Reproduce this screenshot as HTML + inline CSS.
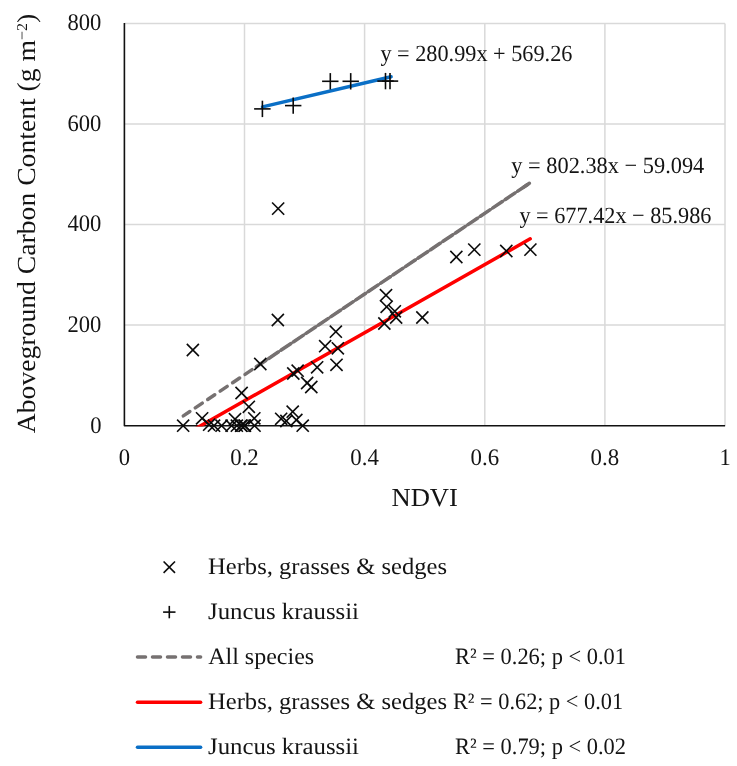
<!DOCTYPE html>
<html lang="en">
<head>
<meta charset="utf-8">
<title>Aboveground Carbon Content vs NDVI</title>
<style>
html,body{margin:0;padding:0;background:#fff;}
body{width:737px;height:766px;overflow:hidden;}
svg{display:block;}
svg text{font-family:"Liberation Serif", "DejaVu Serif", serif;font-size:22px;fill:#141414;text-rendering:geometricPrecision;}
.grid line{stroke:#d9d9d9;stroke-width:1.5;}
.axis{stroke:#111;stroke-width:1.6;fill:none;stroke-linejoin:round;}
.mk{stroke:#0a0a0a;stroke-width:1.6;fill:none;}
.tl{fill:none;stroke-width:3.5;stroke-linecap:round;}
.ttl{font-size:26px;}
.lg text{font-size:23.5px;}
.lg .r{font-size:23.5px;}
.tk text{font-size:23.8px;}
.eq{font-size:23.2px;}
</style>
</head>
<body>
<svg width="737" height="766" viewBox="0 0 737 766">
<rect width="737" height="766" fill="#ffffff"/>
<g class="grid"><line x1="244.5" y1="23.4" x2="244.5" y2="425.7"/><line x1="364.6" y1="23.4" x2="364.6" y2="425.7"/><line x1="484.8" y1="23.4" x2="484.8" y2="425.7"/><line x1="604.9" y1="23.4" x2="604.9" y2="425.7"/><line x1="725.0" y1="23.4" x2="725.0" y2="425.7"/><line x1="124.4" y1="325.1" x2="725.0" y2="325.1"/><line x1="124.4" y1="224.5" x2="725.0" y2="224.5"/><line x1="124.4" y1="124.0" x2="725.0" y2="124.0"/><line x1="124.4" y1="23.4" x2="725.0" y2="23.4"/></g>
<path class="axis" d="M124.4 23.0V425.7H725.1"/>
<!-- trend lines -->
<defs><clipPath id="pa"><rect x="124.4" y="23.4" width="600.6" height="403.2"/></clipPath></defs>
<line class="tl" stroke="#767171" stroke-dasharray="8.5 6.5" stroke-dashoffset="0.6" x1="183.3" y1="415.9" x2="252.2" y2="369.6"/>
<line class="tl" stroke="#767171" stroke-dasharray="11.4 3.6" x1="256.3" y1="366.8" x2="529.4" y2="183.3"/>
<line stroke="#767171" stroke-width="2.4" x1="256.3" y1="366.8" x2="529.4" y2="183.3"/>
<line class="tl" stroke="#767171" x1="523.4" y1="187.4" x2="529.4" y2="183.3"/>
<g clip-path="url(#pa)"><line class="tl" stroke="#ff0000" x1="183.3" y1="435.6" x2="530.2" y2="238.8"/></g>
<line class="tl" stroke="#0a6fc6" x1="262.5" y1="106.9" x2="391.1" y2="76.7"/>
<!-- markers -->
<g class="mk"><line x1="177.1" y1="419.6" x2="189.2" y2="431.8"/><line x1="177.1" y1="431.8" x2="189.2" y2="419.6"/><line x1="196.0" y1="412.3" x2="208.2" y2="424.4"/><line x1="196.0" y1="424.4" x2="208.2" y2="412.3"/><line x1="203.1" y1="418.6" x2="215.2" y2="430.7"/><line x1="203.1" y1="430.7" x2="215.2" y2="418.6"/><line x1="207.9" y1="419.6" x2="220.1" y2="431.8"/><line x1="207.9" y1="431.8" x2="220.1" y2="419.6"/><line x1="215.5" y1="419.6" x2="227.7" y2="431.8"/><line x1="215.5" y1="431.8" x2="227.7" y2="419.6"/><line x1="225.5" y1="419.6" x2="237.7" y2="431.8"/><line x1="225.5" y1="431.8" x2="237.7" y2="419.6"/><line x1="230.8" y1="419.6" x2="242.9" y2="431.8"/><line x1="230.8" y1="431.8" x2="242.9" y2="419.6"/><line x1="235.1" y1="419.6" x2="247.2" y2="431.8"/><line x1="235.1" y1="431.8" x2="247.2" y2="419.6"/><line x1="235.4" y1="419.6" x2="247.6" y2="431.8"/><line x1="235.4" y1="431.8" x2="247.6" y2="419.6"/><line x1="238.4" y1="419.6" x2="250.6" y2="431.8"/><line x1="238.4" y1="431.8" x2="250.6" y2="419.6"/><line x1="238.8" y1="419.6" x2="251.0" y2="431.8"/><line x1="238.8" y1="431.8" x2="251.0" y2="419.6"/><line x1="248.5" y1="419.6" x2="260.6" y2="431.7"/><line x1="248.5" y1="431.7" x2="260.6" y2="419.6"/><line x1="228.9" y1="413.1" x2="241.1" y2="425.2"/><line x1="228.9" y1="425.2" x2="241.1" y2="413.1"/><line x1="235.5" y1="386.9" x2="247.7" y2="399.1"/><line x1="235.5" y1="399.1" x2="247.7" y2="386.9"/><line x1="242.8" y1="400.8" x2="254.9" y2="412.9"/><line x1="242.8" y1="412.9" x2="254.9" y2="400.8"/><line x1="248.2" y1="412.3" x2="260.4" y2="424.4"/><line x1="248.2" y1="424.4" x2="260.4" y2="412.3"/><line x1="275.1" y1="412.8" x2="287.2" y2="424.9"/><line x1="275.1" y1="424.9" x2="287.2" y2="412.8"/><line x1="280.3" y1="414.9" x2="292.4" y2="427.1"/><line x1="280.3" y1="427.1" x2="292.4" y2="414.9"/><line x1="286.6" y1="405.6" x2="298.8" y2="417.7"/><line x1="286.6" y1="417.7" x2="298.8" y2="405.6"/><line x1="290.3" y1="413.9" x2="302.4" y2="426.1"/><line x1="290.3" y1="426.1" x2="302.4" y2="413.9"/><line x1="296.6" y1="419.6" x2="308.8" y2="431.7"/><line x1="296.6" y1="431.7" x2="308.8" y2="419.6"/><line x1="254.2" y1="357.9" x2="266.4" y2="370.1"/><line x1="254.2" y1="370.1" x2="266.4" y2="357.9"/><line x1="271.8" y1="313.9" x2="283.9" y2="326.1"/><line x1="271.8" y1="326.1" x2="283.9" y2="313.9"/><line x1="272.1" y1="202.5" x2="284.2" y2="214.7"/><line x1="272.1" y1="214.7" x2="284.2" y2="202.5"/><line x1="186.8" y1="343.9" x2="198.9" y2="356.1"/><line x1="186.8" y1="356.1" x2="198.9" y2="343.9"/><line x1="287.2" y1="367.4" x2="299.4" y2="379.6"/><line x1="287.2" y1="379.6" x2="299.4" y2="367.4"/><line x1="291.6" y1="364.6" x2="303.7" y2="376.7"/><line x1="291.6" y1="376.7" x2="303.7" y2="364.6"/><line x1="301.1" y1="376.9" x2="313.2" y2="389.1"/><line x1="301.1" y1="389.1" x2="313.2" y2="376.9"/><line x1="305.2" y1="380.9" x2="317.4" y2="393.1"/><line x1="305.2" y1="393.1" x2="317.4" y2="380.9"/><line x1="311.1" y1="361.2" x2="323.2" y2="373.4"/><line x1="311.1" y1="373.4" x2="323.2" y2="361.2"/><line x1="319.1" y1="340.1" x2="331.2" y2="352.2"/><line x1="319.1" y1="352.2" x2="331.2" y2="340.1"/><line x1="329.8" y1="325.6" x2="341.9" y2="337.7"/><line x1="329.8" y1="337.7" x2="341.9" y2="325.6"/><line x1="331.8" y1="342.2" x2="343.9" y2="354.4"/><line x1="331.8" y1="354.4" x2="343.9" y2="342.2"/><line x1="330.4" y1="358.8" x2="342.6" y2="370.9"/><line x1="330.4" y1="370.9" x2="342.6" y2="358.8"/><line x1="379.9" y1="289.1" x2="392.1" y2="301.2"/><line x1="379.9" y1="301.2" x2="392.1" y2="289.1"/><line x1="380.6" y1="300.8" x2="392.7" y2="312.9"/><line x1="380.6" y1="312.9" x2="392.7" y2="300.8"/><line x1="388.8" y1="305.2" x2="400.9" y2="317.4"/><line x1="388.8" y1="317.4" x2="400.9" y2="305.2"/><line x1="390.1" y1="311.4" x2="402.2" y2="323.6"/><line x1="390.1" y1="323.6" x2="402.2" y2="311.4"/><line x1="378.3" y1="317.4" x2="390.4" y2="329.6"/><line x1="378.3" y1="329.6" x2="390.4" y2="317.4"/><line x1="416.3" y1="311.4" x2="428.4" y2="323.6"/><line x1="416.3" y1="323.6" x2="428.4" y2="311.4"/><line x1="450.3" y1="250.9" x2="462.4" y2="263.1"/><line x1="450.3" y1="263.1" x2="462.4" y2="250.9"/><line x1="468.2" y1="243.5" x2="480.4" y2="255.7"/><line x1="468.2" y1="255.7" x2="480.4" y2="243.5"/><line x1="500.2" y1="244.9" x2="512.4" y2="257.1"/><line x1="500.2" y1="257.1" x2="512.4" y2="244.9"/><line x1="524.4" y1="243.5" x2="536.4" y2="255.7"/><line x1="524.4" y1="255.7" x2="536.4" y2="243.5"/></g>
<g class="mk"><line x1="254.2" y1="108.9" x2="270.6" y2="108.9"/><line x1="262.4" y1="100.7" x2="262.4" y2="117.1"/><line x1="285.0" y1="105.6" x2="301.4" y2="105.6"/><line x1="293.2" y1="97.4" x2="293.2" y2="113.8"/><line x1="322.1" y1="81.3" x2="338.5" y2="81.3"/><line x1="330.3" y1="73.1" x2="330.3" y2="89.5"/><line x1="342.5" y1="81.3" x2="358.9" y2="81.3"/><line x1="350.7" y1="73.1" x2="350.7" y2="89.5"/><line x1="377.3" y1="81.1" x2="393.7" y2="81.1"/><line x1="385.5" y1="72.9" x2="385.5" y2="89.3"/><line x1="381.8" y1="81.1" x2="398.2" y2="81.1"/><line x1="390.0" y1="72.9" x2="390.0" y2="89.3"/></g>
<!-- tick labels -->
<g class="tk"><text x="67.5" y="30.2" textLength="33.9" lengthAdjust="spacingAndGlyphs">800</text><text x="67.5" y="130.8" textLength="33.9" lengthAdjust="spacingAndGlyphs">600</text><text x="67.5" y="231.3" textLength="33.9" lengthAdjust="spacingAndGlyphs">400</text><text x="67.5" y="331.9" textLength="33.9" lengthAdjust="spacingAndGlyphs">200</text><text x="90.2" y="432.5" textLength="11.3" lengthAdjust="spacingAndGlyphs">0</text></g>
<g class="tk"><text x="118.8" y="465.0" textLength="11.3" lengthAdjust="spacingAndGlyphs">0</text><text x="230.2" y="465.0" textLength="28.6" lengthAdjust="spacingAndGlyphs">0.2</text><text x="350.3" y="465.0" textLength="28.6" lengthAdjust="spacingAndGlyphs">0.4</text><text x="470.5" y="465.0" textLength="28.6" lengthAdjust="spacingAndGlyphs">0.6</text><text x="590.6" y="465.0" textLength="28.6" lengthAdjust="spacingAndGlyphs">0.8</text><text x="719.4" y="465.0" textLength="11.3" lengthAdjust="spacingAndGlyphs">1</text></g>
<!-- axis titles -->
<text class="ttl" x="424.7" y="505.6" text-anchor="middle" textLength="66.5" lengthAdjust="spacingAndGlyphs">NDVI</text>
<text class="ttl" transform="translate(34.6 433.2) rotate(-90)" textLength="419.5" lengthAdjust="spacingAndGlyphs">Aboveground Carbon Content (g m<tspan font-size="15px" dy="-8">−2</tspan><tspan dy="8">)</tspan></text>
<!-- equations -->
<text class="eq" x="380.4" y="61.0" textLength="192" lengthAdjust="spacingAndGlyphs">y = 280.99x + 569.26</text>
<text class="eq" x="511.3" y="172.5" textLength="193" lengthAdjust="spacingAndGlyphs">y = 802.38x − 59.094</text>
<text class="eq" x="519.4" y="222.7" textLength="192" lengthAdjust="spacingAndGlyphs">y = 677.42x − 85.986</text>
<!-- legend -->
<g class="lg">
<g class="mk"><line x1="163.6" y1="561.5" x2="175.0" y2="572.9"/><line x1="163.6" y1="572.9" x2="175.0" y2="561.5"/></g>
<g class="mk"><line x1="163.1" y1="612.1" x2="175.5" y2="612.1"/><line x1="169.3" y1="605.9" x2="169.3" y2="618.3"/></g>
<line class="tl" stroke="#767171" stroke-dasharray="8 7" x1="137.5" y1="656.9" x2="200.6" y2="656.9"/>
<line class="tl" stroke="#ff0000" x1="137.5" y1="702.2" x2="200.6" y2="702.2"/>
<line class="tl" stroke="#0a6fc6" x1="137.5" y1="747.2" x2="200.6" y2="747.2"/>
<text x="208.0" y="574.0" textLength="239" lengthAdjust="spacingAndGlyphs">Herbs, grasses &amp; sedges</text>
<text x="208.0" y="619.0" textLength="151" lengthAdjust="spacingAndGlyphs">Juncus kraussii</text>
<text x="208.2" y="664.1" textLength="106" lengthAdjust="spacingAndGlyphs">All species</text>
<text class="r" x="455.0" y="664.1" textLength="171" lengthAdjust="spacingAndGlyphs">R² = 0.26; p &lt; 0.01</text>
<text y="709.1"><tspan x="208.0" textLength="239" lengthAdjust="spacingAndGlyphs">Herbs, grasses &amp; sedges</tspan> <tspan class="r" x="452.9" textLength="170.2" lengthAdjust="spacingAndGlyphs">R² = 0.62; p &lt; 0.01</tspan></text>
<text x="208.0" y="754.2" textLength="151" lengthAdjust="spacingAndGlyphs">Juncus kraussii</text>
<text class="r" x="455.0" y="754.2" textLength="171" lengthAdjust="spacingAndGlyphs">R² = 0.79; p &lt; 0.02</text>
</g>
</svg>
</body>
</html>
